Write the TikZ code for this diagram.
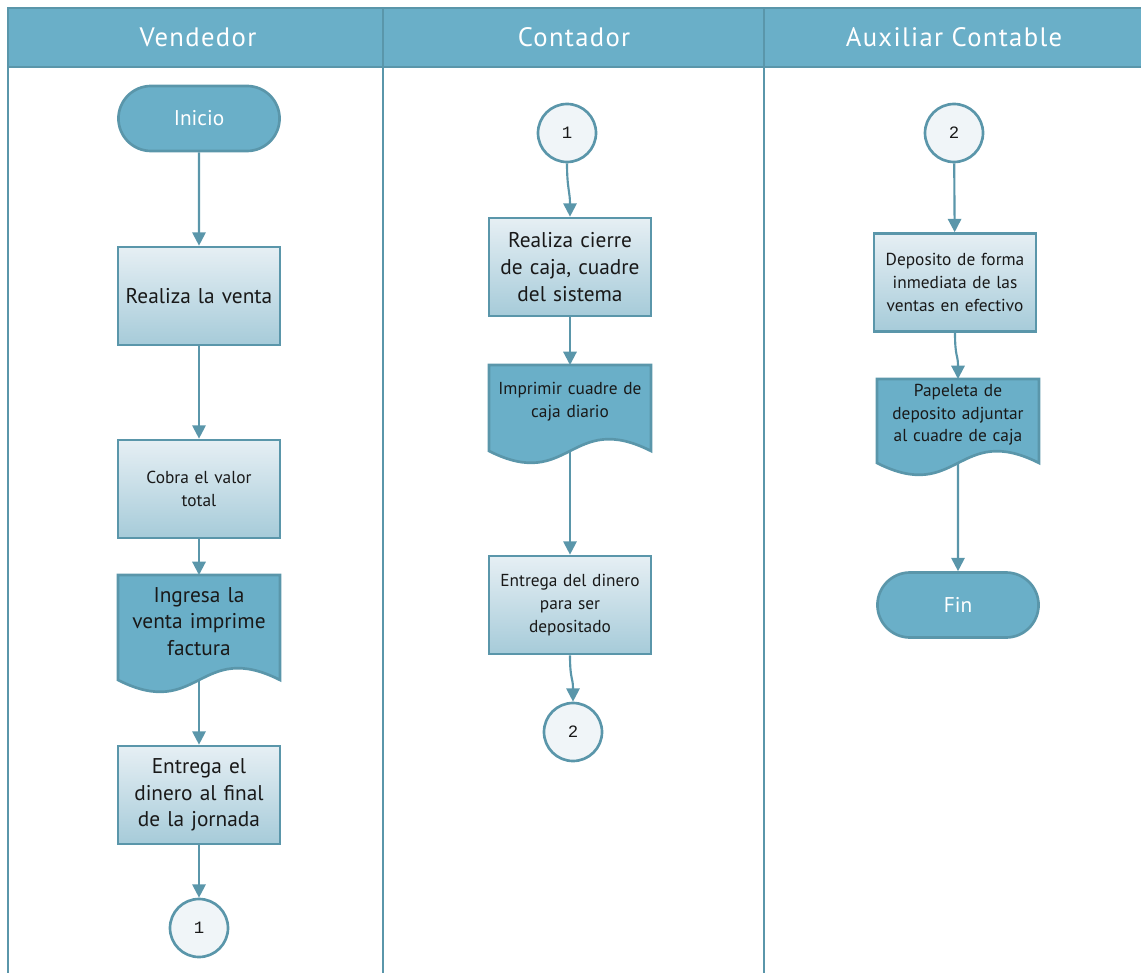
\documentclass[tikz,border=0pt]{standalone}
\usepackage{fontspec}
\setmainfont{PT Sans}
\newfontfamily\headfont[LetterSpace=5]{PT Sans}
\newfontfamily\numfont{Liberation Mono}
\usetikzlibrary{arrows.meta,shapes.misc,calc,backgrounds}

\definecolor{lanefill}{RGB}{106,175,200}
\definecolor{laneline}{RGB}{90,150,170}
\definecolor{boxtop}{RGB}{230,239,244}
\definecolor{boxbot}{RGB}{166,203,217}
\definecolor{circfill}{RGB}{240,245,248}
\definecolor{inktext}{RGB}{25,25,25}

\tikzset{
  lane/.style={draw=laneline, line width=2.2pt},
  header/.style={fill=lanefill, draw=laneline, line width=2.2pt},
  headtext/.style={text=white, font=\headfont\fontsize{20}{22}\selectfont},
  terminal/.style={rounded rectangle, draw=laneline, line width=2pt, fill=lanefill,
    minimum width=170*0.75pt, minimum height=65*0.75pt, text=white,
    font=\fontsize{16}{18}\selectfont},
  process/.style={rectangle, draw=laneline, line width=2pt, top color=boxtop, bottom color=boxbot,
    minimum width=162*0.75pt, minimum height=98*0.75pt, text width=158*0.75pt,
    align=center, inner sep=0pt, text=inktext},
  bigtext/.style={font=\fontsize{16}{20}\selectfont},
  smalltext/.style={font=\fontsize{13}{17}\selectfont},
  docbox/.style={rectangle, draw=none, outer sep=0pt, minimum width=162*0.75pt,
    text width=158*0.75pt, align=center, inner sep=0pt, text=inktext},
  docshape/.style={draw=laneline, line width=2pt, fill=lanefill},
  joint/.style={circle, draw=laneline, line width=2pt, fill=circfill,
    minimum size=58*0.75pt, inner sep=0pt, font=\numfont\fontsize{13}{15}\selectfont, text=inktext},
  flow/.style={draw=laneline, line width=1.6pt,
    -{Triangle[width=10pt, length=10pt]}}
}

% document symbol with a wavy bottom edge, drawn behind its text node
\newcommand{\docwave}[1]{%
  \begin{scope}[on background layer]
    \draw[docshape] (#1.north west) -- (#1.north east) -- ($(#1.south east)+(0,12)$)
      .. controls ($(#1.south)+(0,-29)$) and ($(#1.south)+(0,53)$) .. ($(#1.south west)+(0,12)$) -- cycle;
  \end{scope}
  \coordinate (#1-out) at ($(#1.south)+(0,12)$);%
}

\begin{document}
\begin{tikzpicture}[x=0.75pt, y=-0.75pt]
\useasboundingbox (0,0) rectangle (1141,973);

% swimlanes
\draw[header] (8,8) rectangle (1150,67);
\draw[lane] (8,8) -- (8,985);
\draw[lane] (383,8) -- (383,985);
\draw[lane] (764,8) -- (764,985);
\node[headtext] (hvend) at (198,37) {Vendedor};
\node[headtext] (hcont) at (574,37) {Contador};
\node[headtext] (haux) at (954,37) {Auxiliar Contable};

% Vendedor
\node[terminal] (inicio) at (199,118.5) {Inicio};
\node[process, bigtext] (venta) at (199,296) {Realiza la venta};
\node[process, smalltext] (cobra) at (199,489) {Cobra el valor\\ total};
\node[docbox, bigtext, minimum height=93*0.75pt] (ingresa) at (199,621.5) {Ingresa la\\ venta imprime\\ factura};
\docwave{ingresa}
\node[process, bigtext] (entrega) at (199,795) {Entrega el\\ dinero al final\\ de la jornada};
\node[joint] (v1) at (199,928) {1};

% Contador
\node[joint] (c1) at (567,133) {1};
\node[process, bigtext] (cierre) at (570,267) {Realiza cierre\\ de caja, cuadre\\ del sistema};
\node[docbox, smalltext, minimum height=74*0.75pt] (imprimir) at (570,402) {Imprimir cuadre de\\ caja diario};
\docwave{imprimir}
\node[process, smalltext] (dinero) at (570,605) {Entrega del dinero\\ para ser\\ depositado};
\node[joint] (c2) at (573,732) {2};

% Auxiliar Contable
\node[joint] (a2) at (954,133) {2};
\node[process, smalltext] (deposito) at (955,282.5) {Deposito de forma\\ inmediata de las\\ ventas en efectivo};
\node[docbox, smalltext, minimum height=72*0.75pt] (papeleta) at (958,415) {Papeleta de\\ deposito adjuntar\\ al cuadre de caja};
\docwave{papeleta}
\node[terminal] (fin) at (958,605) {Fin};

% connectors
\draw[flow] (inicio) -- (venta);
\draw[flow] (venta) -- (cobra);
\draw[flow] (cobra) -- (ingresa.north);
\draw[flow] (ingresa-out) -- (entrega);
\draw[flow] (entrega.south) .. controls +(0,25) and +(0,-25) .. (v1.north);

\draw[flow] (c1.south) .. controls +(0,25) and +(0,-25) .. (cierre.north);
\draw[flow] (cierre) -- (imprimir.north);
\draw[flow] (imprimir-out) -- (dinero);
\draw[flow] (dinero.south) .. controls +(0,25) and +(0,-25) .. (c2.north);

\draw[flow] (a2) -- (deposito);
\draw[flow] (deposito.south) .. controls +(0,25) and +(0,-25) .. (papeleta.north);
\draw[flow] (papeleta-out) -- (fin);
\end{tikzpicture}
\end{document}
